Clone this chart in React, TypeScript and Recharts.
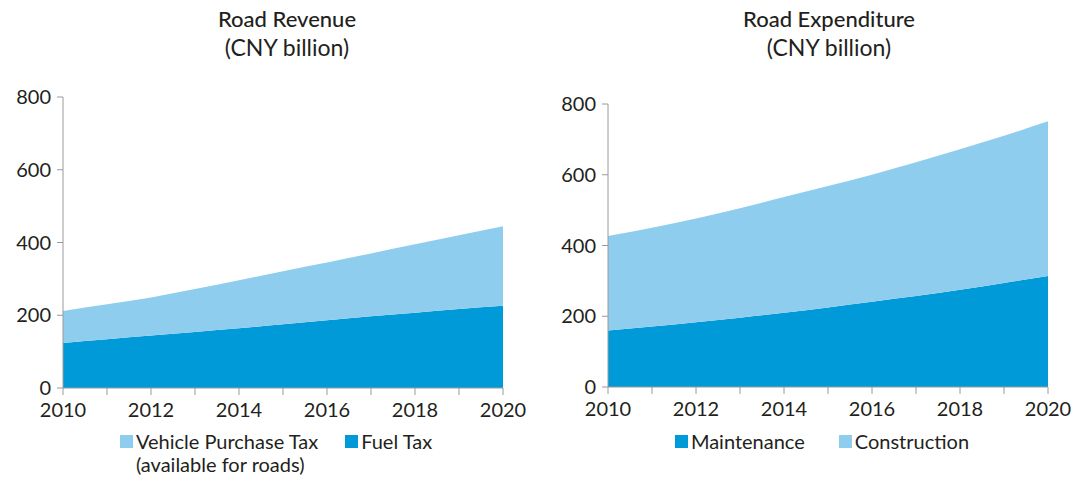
import { AreaChart, Area, XAxis, YAxis, Legend } from "recharts";

const years = [2010, 2011, 2012, 2013, 2014, 2015, 2016, 2017, 2018, 2019, 2020];

// Road revenue (CNY billion)
const fuelTax = [124, 134, 144, 154, 164, 175, 186, 197, 207, 217, 226];
const vehiclePurchaseTax = [88, 96, 105, 118, 132, 146, 159, 173, 188, 203, 219];

// Road expenditure (CNY billion)
const maintenance = [160, 171, 183, 196, 210, 225, 241, 257, 275, 294, 314];
const construction = [267, 279, 293, 309, 327, 343, 359, 378, 397, 416, 437];

const yTicks = [0, 200, 400, 600, 800];

const DARK = "#009ad9";
const LIGHT = "#8ecdee";
const TEXT = "#231f20";
const AXIS = "#9a9a9a";
const FONT = "Lato, 'Open Sans', sans-serif";

const revenueData = years.map((year, i) => ({
  year,
  fuel: fuelTax[i],
  vpt: vehiclePurchaseTax[i],
}));

const expenditureData = years.map((year, i) => ({
  year,
  maintenance: maintenance[i],
  construction: construction[i],
}));

const yearLabel = (v: number) => (v % 2 === 0 ? String(v) : "");

function Swatch({ color }: { color: string }) {
  return (
    <span
      style={{
        display: "inline-block",
        width: 13,
        height: 13,
        background: color,
        marginRight: 3,
        marginTop: 5,
        flex: "none",
      }}
    />
  );
}

function LegendBox({
  items,
  gap,
  offset,
}: {
  items: { label: string[]; color: string }[];
  gap: number;
  offset: number;
}) {
  return (
    <div
      style={{
        height: 48,
        display: "flex",
        justifyContent: "center",
        gap,
        paddingLeft: offset,
        fontFamily: FONT,
        fontSize: 20,
        color: TEXT,
        lineHeight: "23px",
      }}
    >
      {items.map((it) => (
        <div key={it.label[0]} style={{ display: "flex", alignItems: "flex-start" }}>
          <Swatch color={it.color} />
          <div>
            {it.label.map((l) => (
              <div key={l}>{l}</div>
            ))}
          </div>
        </div>
      ))}
    </div>
  );
}

function Title({ line1, center }: { line1: string; center: number }) {
  return (
    <div
      style={{
        position: "absolute",
        top: 5,
        left: center - 150,
        width: 300,
        textAlign: "center",
        fontFamily: FONT,
        fontSize: 22,
        lineHeight: "28px",
        color: TEXT,
      }}
    >
      <div style={{ fontWeight: 500 }}>{line1}</div>
      <div style={{ fontSize: 23 }}>(CNY billion)</div>
    </div>
  );
}

const xTick = { fontSize: 20, fill: TEXT, fontFamily: FONT, dy: 6 };
const yTick = { fontSize: 20, fill: TEXT, fontFamily: FONT, dx: -4 };

export default function App() {
  return (
    <div
      style={{
        position: "absolute",
        top: 0,
        left: 0,
        width: 1077,
        height: 478,
        background: "#fff",
      }}
    >
      <Title line1="Road Revenue" center={287} />
      <Title line1="Road Expenditure" center={829} />

      <div style={{ position: "absolute", left: 0, top: 0 }}>
        <AreaChart
          width={530}
          height={478}
          data={revenueData}
          margin={{ top: 97, right: 27, left: 0, bottom: 0 }}
        >
          <XAxis
            dataKey="year"
            type="number"
            domain={[2010, 2020]}
            ticks={years}
            tickFormatter={yearLabel}
            tick={xTick}
            stroke={AXIS}
            tickSize={7}
            height={42}
            interval={0}
          />
          <YAxis
            domain={[0, 800]}
            ticks={yTicks}
            tick={yTick}
            stroke={AXIS}
            tickSize={6}
            width={63}
          />
          <Area
            type="monotone"
            dataKey="fuel"
            name="Fuel Tax"
            stackId="r"
            fill={DARK}
            fillOpacity={1}
            stroke="none"
            isAnimationActive={false}
          />
          <Area
            type="monotone"
            dataKey="vpt"
            name="Vehicle Purchase Tax"
            stackId="r"
            fill={LIGHT}
            fillOpacity={1}
            stroke="none"
            isAnimationActive={false}
          />
          <Legend
            verticalAlign="bottom"
            content={() => (
              <LegendBox
                gap={27}
                offset={49}
                items={[
                  { label: ["Vehicle Purchase Tax", "(available for roads)"], color: LIGHT },
                  { label: ["Fuel Tax"], color: DARK },
                ]}
              />
            )}
          />
        </AreaChart>
      </div>

      <div style={{ position: "absolute", left: 540, top: 0 }}>
        <AreaChart
          width={537}
          height={478}
          data={expenditureData}
          margin={{ top: 104, right: 29, left: 0, bottom: 0 }}
        >
          <XAxis
            dataKey="year"
            type="number"
            domain={[2010, 2020]}
            ticks={years}
            tickFormatter={yearLabel}
            tick={xTick}
            stroke={AXIS}
            tickSize={7}
            height={43}
            interval={0}
          />
          <YAxis
            domain={[0, 800]}
            ticks={yTicks}
            tick={yTick}
            stroke={AXIS}
            tickSize={6}
            width={68}
          />
          <Area
            type="monotone"
            dataKey="maintenance"
            name="Maintenance"
            stackId="e"
            fill={DARK}
            fillOpacity={1}
            stroke="none"
            isAnimationActive={false}
          />
          <Area
            type="monotone"
            dataKey="construction"
            name="Construction"
            stackId="e"
            fill={LIGHT}
            fillOpacity={1}
            stroke="none"
            isAnimationActive={false}
          />
          <Legend
            verticalAlign="bottom"
            content={() => (
              <LegendBox
                gap={34}
                offset={56}
                items={[
                  { label: ["Maintenance"], color: DARK },
                  { label: ["Construction"], color: LIGHT },
                ]}
              />
            )}
          />
        </AreaChart>
      </div>
    </div>
  );
}
